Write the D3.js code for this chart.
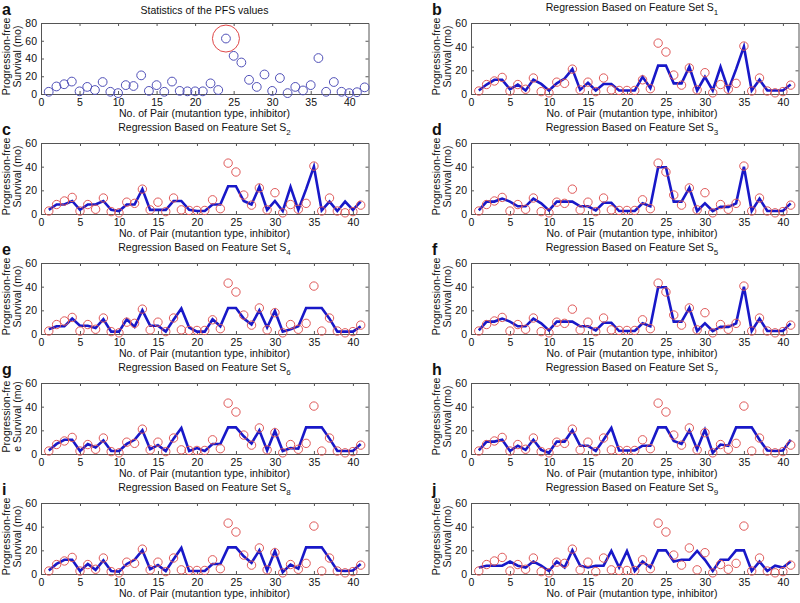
<!DOCTYPE html>
<html><head><meta charset="utf-8">
<script src="https://cdn.jsdelivr.net/npm/d3@7"></script>
<style>
body{margin:0;background:#fff;}
text{font-family:"Liberation Sans",Arial,sans-serif;}
</style></head>
<body>
<svg id="chart" width="800" height="603"></svg>
<script>
// ---- data ----
const pairIdsAll = d3.range(1, 43);
const pairIds = d3.range(1, 42);
const pfsAll = [2.5,8.5,11,14,3,8,4.5,13.5,2.5,1,10,9,21,3.5,10,2.5,14,3.5,3,3,3,12,4.5,62.5,43,35.5,16,8,22,3.5,18,1,8,4,10,40.5,2.5,13.5,2.5,1,2,7.5];
const pfsObs = [2.5,8,11,14,2.5,8,4,13.5,2,1,10,9,21,3.5,10,2,13.5,3.5,3,3,3,12,4.5,43,35.5,16,7.5,22,3.5,18,1,8,4,9,40.5,2.5,13.5,2.5,1,2,7.5];
const predS1 = [3,8,12,12,4,8,3,12,8.5,3,9,13,21,3.5,9.5,3,8.5,8.5,3,3,3,14.5,5,24,24,9,9,23,3,14.5,3,23,3.5,21,40,3,12,3,3,3,8];
const predS2 = [3.5,8,8,11,3.5,8,8,11,3.5,2.5,8,8,21,3.5,3.5,3.5,11,11,3.5,2.5,2.5,8,8,23.5,23.5,11,8,23,3.5,11,2.5,23,3.5,21,40,3,10.5,2.5,10.5,3.5,10.5];
const predS3 = [3,10.5,10.5,13,10.5,6.5,6.5,13,9,3,10.5,10.5,10.5,6.5,6.5,3,9.5,9.5,2.5,2.5,2.5,9,6.5,39.5,39.5,10.5,10.5,22,2.5,9,2.5,6,6,9,40,2.5,13,2.5,2.5,2.5,9];
const predS4 = [4,6.5,6.5,13,7,7,5,12.5,2,2,12.5,6,20,7,7,2,12,21.5,5.5,2,2,12.5,6.5,22,22,13,8,20,5.5,19.5,2,4,6.5,22,22,22,13,2,2,2,6.5];
const predS5 = [3,10.5,10.5,13,10.5,6.5,6.5,13,9,3,10.5,10.5,10.5,6.5,6.5,3,9.5,9.5,2.5,2.5,2.5,9,6.5,39.5,39.5,10.5,10.5,22,2.5,9,2.5,6,6,9,40,2.5,13,2.5,2.5,2.5,9];
const predS6 = [3,8.5,12,12,2.5,8.5,5.5,11.5,2.5,2.5,8.5,12,20,4,7.5,2.5,13,22,2.5,5,2.5,8.5,8.5,22.5,22.5,15,9,20,3,19.5,2.5,5,4.5,22.5,22.5,22.5,13,2.5,2.5,2.5,8.5];
const predS7 = [3,10.5,10.5,12,2.5,7,3.5,12,3.5,1,10.5,10.5,20,7,7,2.5,12,22,3,3,3,7,7,22.5,22.5,11,8.5,20,4,20.5,1,8,7,22.5,22.5,22.5,12,3,2.5,3,12];
const predS8 = [3,8.5,12,12,2.5,8.5,3.5,11.5,2.5,2,8.5,12,20,4,7.5,2.5,12.5,22,2.5,2.5,2.5,8.5,8.5,22.5,22.5,15,9.5,20,3,19.5,1.5,8,4.5,22.5,22.5,22.5,13,3,2.5,3,8.5];
const predS9 = [5.5,7,7,7,10.5,7,5.5,10.5,7,2.5,10.5,5.5,20,7,5.5,7,7,19.5,5.5,19.5,2.5,10.5,5.5,20,20,10.5,12,12,19.5,12,2.5,12,12,20,20,2.5,10.5,2.5,7,5.5,10.5];
const xTicks = [0,5,10,15,20,25,30,35,40];
const yTicksA = [0,20,40,60,80];
const yTicksR = [0,20,40,60];
const outlierPair = 24, outlierValue = 62.5;

const panels = [
  {lab:"a", title:"Statistics of the PFS values", sub:null, pred:null},
  {lab:"b", title:"Regression Based on Feature Set S", sub:"1", pred:predS1},
  {lab:"c", title:"Regression Based on Feature Set S", sub:"2", pred:predS2},
  {lab:"d", title:"Regression Based on Feature Set S", sub:"3", pred:predS3},
  {lab:"e", title:"Regression Based on Feature Set S", sub:"4", pred:predS4},
  {lab:"f", title:"Regression Based on Feature Set S", sub:"5", pred:predS5},
  {lab:"g", title:"Regression Based on Feature Set S", sub:"6", pred:predS6, ylab:["Progression-fre","e Survival (mo)"]},
  {lab:"h", title:"Regression Based on Feature Set S", sub:"7", pred:predS7},
  {lab:"i", title:"Regression Based on Feature Set S", sub:"8", pred:predS8},
  {lab:"j", title:"Regression Based on Feature Set S", sub:"9", pred:predS9}
];

const svg = d3.select("#chart");
const colLeft = [41, 471];
const colCenter = [204.5, 632];
const W = 327.5, H = 71;
const axisCol = "#555";
const blue = "#1818c8", red = "#e05a5a", ptBlue = "#5050b8";

panels.forEach((p, i) => {
  const col = i % 2, row = Math.floor(i / 2);
  const x0 = colLeft[col], y0 = 23 + 120 * row;
  const isA = i === 0;
  const x = d3.scaleLinear().domain([0, isA ? 42.5 : 42]).range([x0, x0 + W]);
  const y = d3.scaleLinear().domain([0, isA ? 80 : 60]).range([y0 + H, y0]);
  const g = svg.append("g");
  const yT = isA ? yTicksA : yTicksR;

  // axes with inward ticks on all sides
  const ax = (axis) => axis.tickSizeInner(-3).tickSizeOuter(0).tickPadding(5);
  const gb = g.append("g").attr("transform", `translate(0,${y0 + H})`)
    .call(ax(d3.axisBottom(x).tickValues(xTicks)));
  const gt = g.append("g").attr("transform", `translate(0,${y0})`)
    .call(ax(d3.axisTop(x).tickValues(xTicks)).tickFormat(""));
  const gl = g.append("g").attr("transform", `translate(${x0},0)`)
    .call(ax(d3.axisLeft(y).tickValues(yT)));
  const gr = g.append("g").attr("transform", `translate(${x0 + W},0)`)
    .call(ax(d3.axisRight(y).tickValues(yT)).tickFormat(""));
  [gb, gt, gl, gr].forEach(s => {
    s.select(".domain").attr("stroke", axisCol).attr("stroke-width", 1);
    s.selectAll(".tick line").attr("stroke", axisCol);
    s.selectAll(".tick text").attr("fill", "#111").style("font-size", "10.5px")
      .style("font-family", '"Liberation Sans",Arial,sans-serif');
  });
  gl.selectAll(".tick text").attr("x", -4);
  gb.selectAll(".tick text").attr("dy", "0.95em").attr("y", 2);

  if (isA) {
    g.selectAll("circle.pt").data(pairIdsAll).enter().append("circle")
      .attr("cx", d => x(d)).attr("cy", (d, k) => y(pfsAll[k])).attr("r", 4.4)
      .attr("fill", "none").attr("stroke", ptBlue).attr("stroke-width", 1);
    g.append("circle").attr("cx", x(outlierPair)).attr("cy", y(outlierValue)).attr("r", 13.5)
      .attr("fill", "none").attr("stroke", "#e04848").attr("stroke-width", 1);
  } else {
    const line = d3.line().x(d => x(d)).y((d, k) => y(p.pred[k]));
    g.append("path").datum(pairIds).attr("d", line).attr("fill", "none")
      .attr("stroke", blue).attr("stroke-width", 2.6).attr("stroke-linejoin", "miter");
    g.selectAll("circle.pt").data(pairIds).enter().append("circle")
      .attr("cx", d => x(d)).attr("cy", (d, k) => y(pfsObs[k])).attr("r", 4.2)
      .attr("fill", "none").attr("stroke", red).attr("stroke-width", 1);
  }

  // title
  const t = g.append("text").attr("x", colCenter[col]).attr("y", y0 - (isA ? 9 : 12))
    .attr("text-anchor", "middle").style("font-size", "10.5px").attr("fill", "#111").text(p.title);
  if (p.sub) t.append("tspan").attr("dy", 4).style("font-size", "8px").text(p.sub);

  // panel letter
  g.append("text").attr("x", col ? 432 : 2).attr("y", 15 + 120 * row)
    .style("font-size", "16px").style("font-weight", "bold").attr("fill", "#111").text(p.lab);

  // x label
  g.append("text").attr("x", colCenter[col]).attr("y", y0 + H + 23)
    .attr("text-anchor", "middle").style("font-size", "10.5px").attr("fill", "#111")
    .text("No. of Pair (mutantion type, inhibitor)");

  // y label
  const yl = p.ylab || ["Progression-free", "Survival (mo)"];
  const cy = y0 + H / 2 - 2;
  [x0 - 35, x0 - 24].forEach((lx, k) => {
    g.append("text").attr("transform", `translate(${lx},${cy}) rotate(-90)`)
      .attr("text-anchor", "middle").attr("dy", "0.35em").style("font-size", "10.5px")
      .attr("fill", "#111").text(yl[k]);
  });
});
</script>
</body></html>
